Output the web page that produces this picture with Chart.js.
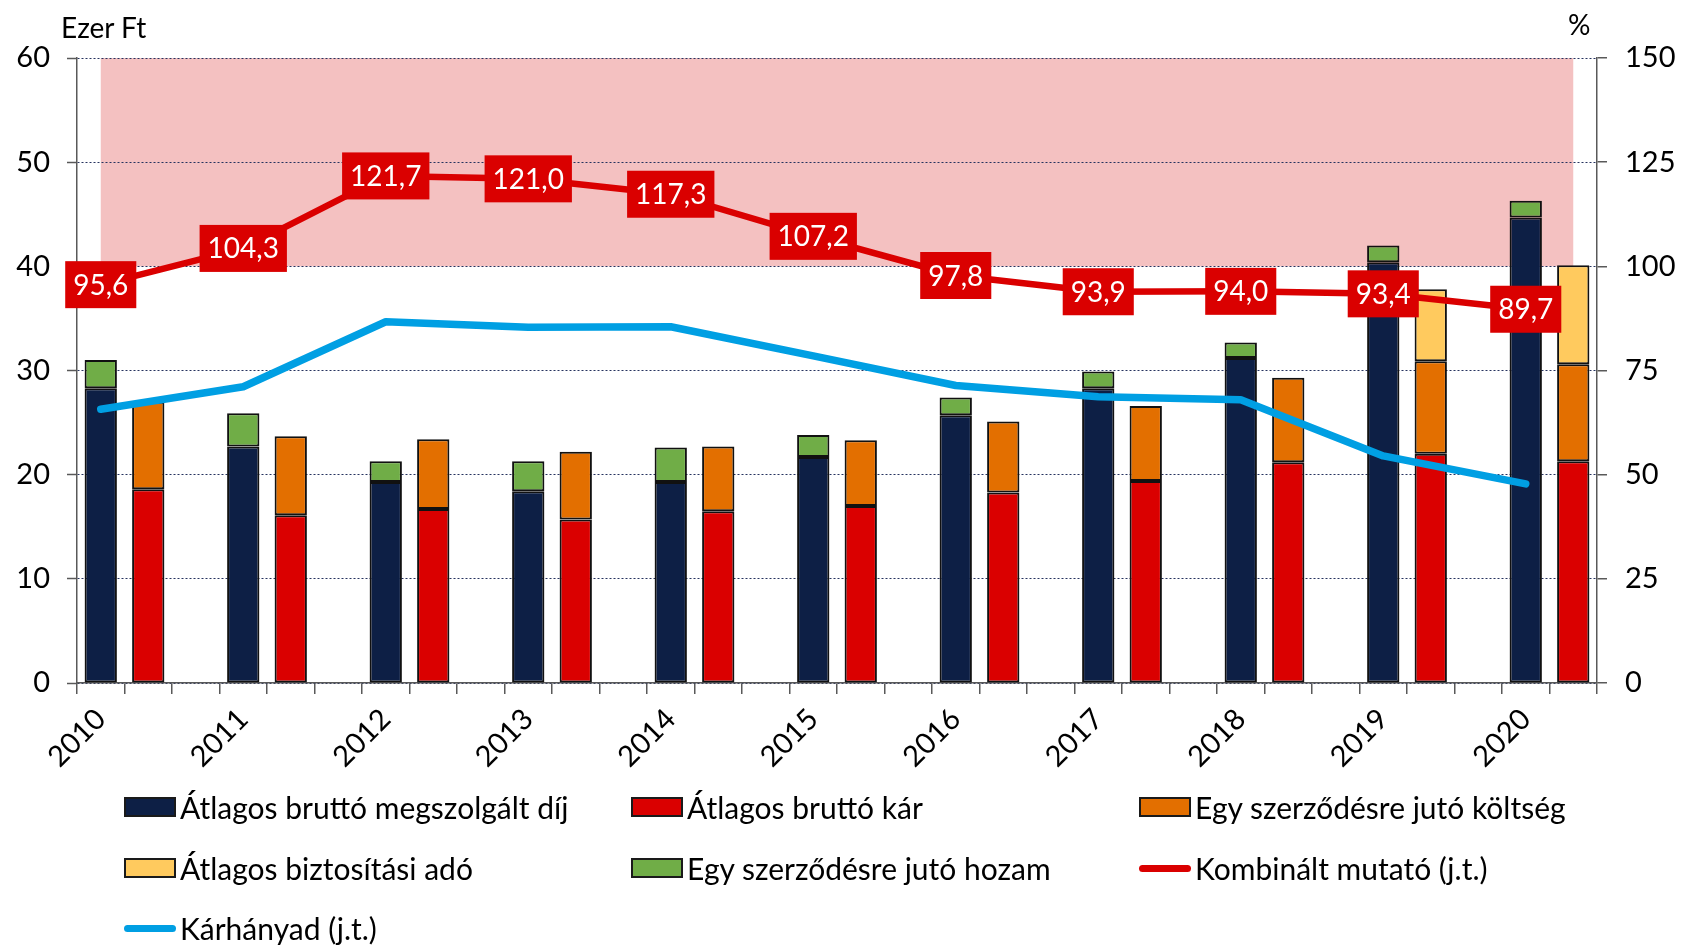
<!DOCTYPE html>
<html>
<head>
<meta charset="utf-8">
<script src="https://cdn.jsdelivr.net/npm/chart.js@4.4.1/dist/chart.umd.min.js"></script>
<style>
  body { margin: 0; background: #fff; }
  #wrap { position: relative; width: 1681px; height: 946px; font-family: Lato, sans-serif; color: #000; }
  #myChart { position: absolute; left: 0; top: 0; }
  .axis-title { position: absolute; font-size: 28px; line-height: 30px; }
  .legend-item { position: absolute; display: flex; align-items: center; height: 40px; font-size: 30px; white-space: nowrap; }
  .box { width: 48px; height: 16px; border: 2px solid #1a1a1a; margin-right: 4px; }
  .line { width: 52px; height: 7px; border-radius: 4px; margin-right: 4px; }
</style>
</head>
<body>
<div id="wrap">
  <canvas id="myChart" width="1681" height="946"></canvas>
  <div class="axis-title" style="left:61px; top:12px;">Ezer Ft</div>
  <div class="axis-title" style="left:1568px; top:9px;">%</div>

  <div class="legend-item" style="left:124px; top:787px;"><span class="box" style="background:#0D1F45"></span>Átlagos bruttó megszolgált díj</div>
  <div class="legend-item" style="left:631px; top:787px;"><span class="box" style="background:#DA0000"></span>Átlagos bruttó kár</div>
  <div class="legend-item" style="left:1139px; top:787px;"><span class="box" style="background:#E36F00"></span>Egy szerződésre jutó költség</div>
  <div class="legend-item" style="left:124px; top:848px;"><span class="box" style="background:#FFCA5E"></span>Átlagos biztosítási adó</div>
  <div class="legend-item" style="left:631px; top:848px;"><span class="box" style="background:#70AD47"></span>Egy szerződésre jutó hozam</div>
  <div class="legend-item" style="left:1139px; top:848px;"><span class="line" style="background:#DA0000"></span>Kombinált mutató (j.t.)</div>
  <div class="legend-item" style="left:124px; top:908px;"><span class="line" style="background:#009FE3"></span>Kárhányad (j.t.)</div>
</div>
<script>
const years = ['2010', '2011', '2012', '2013', '2014', '2015', '2016', '2017', '2018', '2019', '2020'];
// Ezer Ft (bal tengely)
const premium = [28.3, 22.7, 19.3, 18.4, 19.3, 21.7, 25.7, 28.3, 31.2, 40.4, 44.7];
const investment = [2.7, 3.2, 2.0, 2.9, 3.3, 2.1, 1.7, 1.6, 1.5, 1.6, 1.6];
const claims = [18.6, 16.1, 16.7, 15.7, 16.5, 17.0, 18.3, 19.4, 21.2, 22.0, 21.3];
const costs = [8.4, 7.6, 6.7, 6.5, 6.2, 6.3, 6.8, 7.2, 8.1, 8.9, 9.3];
const tax = [null, null, null, null, null, null, null, null, null, 6.9, 9.5];
// % (jobb tengely)
const combined = [95.6, 104.3, 121.7, 121.0, 117.3, 107.2, 97.8, 93.9, 94.0, 93.4, 89.7];
const lossRatio = [65.7, 71.1, 86.7, 85.4, 85.5, 78.5, 71.4, 68.7, 68.0, 54.5, 47.8];
const leftTicks = { min: 0, max: 60, step: 10 };
const rightTicks = { min: 0, max: 150, step: 25 };
const bandFrom = 100;
const bandTo = 150;

// every year takes 3 slots: premium bar, claims bar, gap (no gap after the last year)
const slotCount = years.length * 3 - 1;
const slotLabels = [];
for (let i = 0; i < slotCount; i++) {
  slotLabels.push(i % 3 === 0 ? years[i / 3] : '');
}
function toSlots(values, offset) {
  const out = new Array(slotCount).fill(null);
  values.forEach((v, i) => { out[i * 3 + offset] = v; });
  return out;
}

const bandPlugin = {
  id: 'band',
  beforeDraw(chart) {
    const { ctx, scales } = chart;
    const x1 = scales.x.getPixelForValue(0);
    const x2 = scales.x.getPixelForValue(slotCount - 1);
    const top = scales.y2.getPixelForValue(bandTo);
    const bottom = scales.y2.getPixelForValue(bandFrom);
    ctx.save();
    ctx.fillStyle = '#F4C1C1';
    ctx.fillRect(x1, top, x2 - x1, bottom - top);
    ctx.restore();
  },
};

const boxLabelPlugin = {
  id: 'boxLabels',
  afterDatasetsDraw(chart) {
    const ctx = chart.ctx;
    const meta = chart.getDatasetMeta(0);
    ctx.save();
    ctx.font = '28px Lato';
    ctx.textAlign = 'center';
    ctx.textBaseline = 'middle';
    meta.data.forEach((pt, i) => {
      if (i % 3 !== 0) return;
      const text = combined[i / 3].toFixed(1).replace('.', ',');
      const w = ctx.measureText(text).width + 16;
      const h = 47;
      ctx.fillStyle = '#DA0000';
      ctx.fillRect(pt.x - w / 2, pt.y - h / 2, w, h);
      ctx.fillStyle = '#fff';
      ctx.fillText(text, pt.x, pt.y + 1);
    });
    ctx.restore();
  },
};

Chart.defaults.font.family = 'Lato';
Chart.defaults.font.size = 29;
Chart.defaults.color = '#000';

const barStyle = {
  type: 'bar',
  stack: 'all',
  yAxisID: 'y',
  borderColor: '#111',
  borderWidth: 2,
  borderSkipped: false,
  barPercentage: 0.68,
  categoryPercentage: 1,
  order: 2,
};

const ctx = document.getElementById('myChart').getContext('2d');
const chart = new Chart(ctx, {
  data: {
    labels: slotLabels,
    datasets: [
      {
        type: 'line',
        label: 'Kombinált mutató (j.t.)',
        data: toSlots(combined, 0),
        yAxisID: 'y2',
        borderColor: '#DA0000',
        borderWidth: 6.5,
        pointRadius: 0,
        spanGaps: true,
        tension: 0,
        borderCapStyle: 'round',
        borderJoinStyle: 'round',
        order: 0,
      },
      {
        type: 'line',
        label: 'Kárhányad (j.t.)',
        data: toSlots(lossRatio, 0),
        yAxisID: 'y2',
        borderColor: '#009FE3',
        borderWidth: 7.5,
        pointRadius: 0,
        spanGaps: true,
        tension: 0,
        borderCapStyle: 'round',
        borderJoinStyle: 'round',
        order: 1,
      },
      { ...barStyle, label: 'Átlagos bruttó megszolgált díj', data: toSlots(premium, 0), backgroundColor: '#0D1F45' },
      { ...barStyle, label: 'Egy szerződésre jutó hozam', data: toSlots(investment, 0), backgroundColor: '#70AD47' },
      { ...barStyle, label: 'Átlagos bruttó kár', data: toSlots(claims, 1), backgroundColor: '#DA0000' },
      { ...barStyle, label: 'Egy szerződésre jutó költség', data: toSlots(costs, 1), backgroundColor: '#E36F00' },
      { ...barStyle, label: 'Átlagos biztosítási adó', data: toSlots(tax, 1), backgroundColor: '#FFCA5E' },
    ],
  },
  options: {
    responsive: false,
    animation: false,
    layout: { padding: { top: 58, left: 0, right: 0, bottom: 0 } },
    plugins: {
      legend: { display: false },
      tooltip: { enabled: false },
    },
    scales: {
      x: {
        stacked: true,
        grid: { drawOnChartArea: false, offset: true, tickLength: 11, color: '#595959', lineWidth: 1.5 },
        border: { color: '#595959', width: 1.5 },
        ticks: { autoSkip: false, maxRotation: 45, minRotation: 45, padding: 8 },
        afterFit(scale) { scale.height = 946 - 683; },
      },
      y: {
        position: 'left',
        stacked: true,
        min: leftTicks.min,
        max: leftTicks.max,
        ticks: { stepSize: leftTicks.step, padding: 17 },
        grid: { color: '#26335F', lineWidth: 1, tickLength: 10, tickColor: '#595959', tickWidth: 1.5 },
        border: { color: '#595959', width: 1.5, dash: [2, 2] },
        afterFit(scale) { scale.width = 77; },
      },
      y2: {
        position: 'right',
        min: rightTicks.min,
        max: rightTicks.max,
        ticks: { stepSize: rightTicks.step, padding: 18 },
        grid: { drawOnChartArea: false, tickLength: 10, color: '#595959', lineWidth: 1.5 },
        border: { color: '#595959', width: 1.5 },
        afterFit(scale) { scale.width = 1681 - 1597; },
      },
    },
  },
  plugins: [bandPlugin, boxLabelPlugin],
});
</script>
</body>
</html>
